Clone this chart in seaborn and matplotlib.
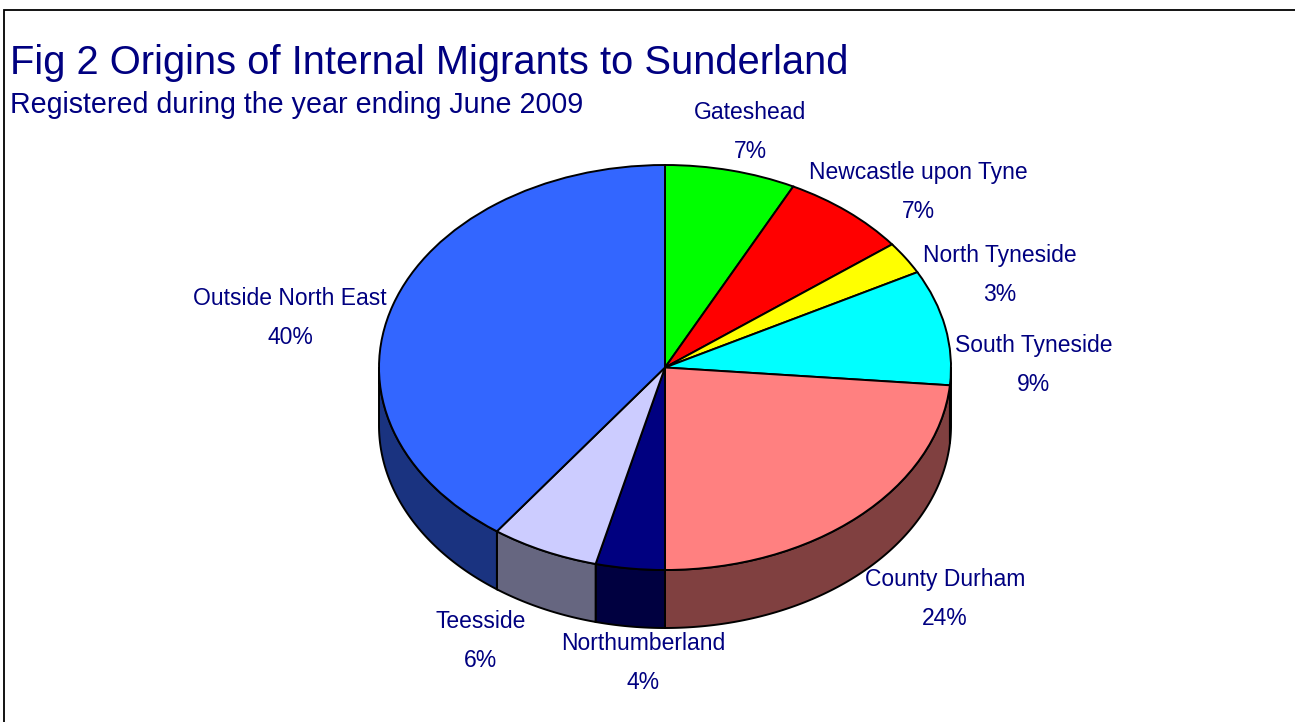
import numpy as np
import matplotlib
matplotlib.use("Agg")
import matplotlib.pyplot as plt
import seaborn as sns
from matplotlib.patches import Polygon, Rectangle
from matplotlib.colors import to_rgb

# ---- data ----
categories = ["Gateshead", "Newcastle upon Tyne", "North Tyneside", "South Tyneside",
              "County Durham", "Northumberland", "Teesside", "Outside North East"]
values = [7.4, 7.2, 2.6, 9.2, 23.6, 3.9, 6.1, 40.0]
pct_labels = ["7%", "7%", "3%", "9%", "24%", "4%", "6%", "40%"]
colors = ["#00FF00", "#FF0000", "#FFFF00", "#00FFFF", "#FF8080", "#000080", "#CCCCFF", "#3366FF"]

# ---- layout ----
W, H = 1295, 722
CX, CY, RX, RY, DEPTH = 665, 367.5, 286, 202.5, 58   # pixel geometry of the pie
# label block centres (pixels)
label_pos = [(750, 132), (918, 192), (1000, 275), (1034, 365),
             (945, 599), (643, 663), (481, 641), (290, 318)]
NAVY = "#000080"

sns.set_theme(style="white")
plt.rcParams['font.family'] = ['Liberation Sans', 'DejaVu Sans']

fig = plt.figure(figsize=(W / 100, H / 100), dpi=100)
ax = fig.add_axes([0, 0, 1, 1])

d = DEPTH / RY
fracs = np.array(values) / np.sum(values)
cum = np.concatenate([[0], np.cumsum(fracs)])
th_start = 90 - 360 * cum[:-1]
th_end = 90 - 360 * cum[1:]

# side walls (front half only)
for i in range(len(values)):
    a, b = max(th_end[i], -180), min(th_start[i], 0)
    if a < b:
        t = np.radians(np.linspace(a, b, 200))
        top = np.column_stack([np.cos(t), np.sin(t)])
        bot = top.copy()
        bot[:, 1] -= d
        poly = np.vstack([top, bot[::-1]])
        dark = tuple(c * 0.5 for c in to_rgb(colors[i]))
        ax.add_patch(Polygon(poly, closed=True, fc=dark, ec="black", lw=1.4, zorder=1))

# top face
ax.pie(values, colors=colors, startangle=90, counterclock=False,
       wedgeprops=dict(edgecolor="black", linewidth=1.4, zorder=2))

ax.set_aspect("auto")
ax.set_xlim(-CX / RX, (W - CX) / RX)
ax.set_ylim(-(H - CY) / RY, CY / RY)
ax.axis("off")

for cat, p, (px, py) in zip(categories, pct_labels, label_pos):
    ax.text((px - CX) / RX, (CY - py) / RY, f"{cat}\n{p}", ha="center", va="center",
            multialignment="center", color=NAVY, fontsize=16.5, linespacing=1.93, zorder=5)

fig.text(10 / W, 1 - 74 / H, "Fig 2 Origins of Internal Migrants to Sunderland",
         ha="left", va="baseline", color=NAVY, fontsize=28.7)
fig.text(10 / W, 1 - 113 / H, "Registered during the year ending June 2009",
         ha="left", va="baseline", color=NAVY, fontsize=20.6)

fig.add_artist(Rectangle((4 / W, -0.1), 2, 1 - 10 / H + 0.1, transform=fig.transFigure,
                         fill=False, ec="black", lw=1.3))

fig.savefig("out.png", dpi=100)
